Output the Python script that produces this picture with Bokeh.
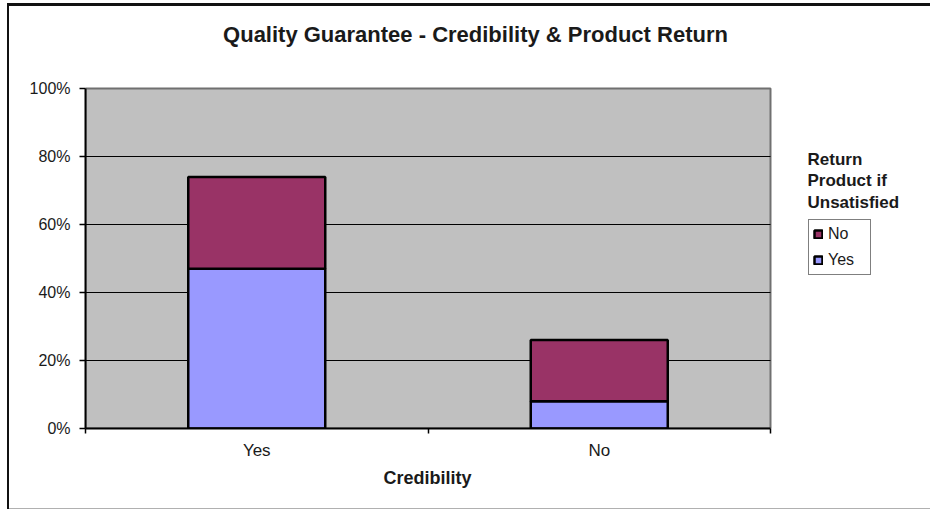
from bokeh.plotting import figure
from bokeh.models import (Range1d, FixedTicker, NumeralTickFormatter, Legend,
                          LegendItem, Label, Title, ColumnDataSource)
from bokeh.embed import file_html
from bokeh.resources import INLINE

# ---- data ----
credibility = ["Yes", "No"]
return_yes = [0.47, 0.08]
return_no = [0.27, 0.18]
y_ticks = [0, 0.2, 0.4, 0.6, 0.8, 1.0]
series = ["Yes", "No"]
series_colors = ["#9999FF", "#993366"]

FONT = "Liberation Sans"
TXT = "#1a1a1a"

n = len(credibility)
positions = [i + 0.5 for i in range(n)]
edges = list(range(n + 1))
source = ColumnDataSource(dict(x=positions, cred=credibility,
                               Yes=return_yes, No=return_no))

# ---- layout (pixels) ----
W, H = 923, 506
LEFT, BOTTOM = 78, 81
AREA_W, AREA_H = 685, 340          # plot-area size in pixels
frame_w, frame_h = W - LEFT, H - BOTTOM
x_end = n * frame_w / AREA_W
y_end = y_ticks[-1] * frame_h / AREA_H

p = figure(width=W, height=H,
           x_range=Range1d(0, x_end), y_range=Range1d(0, y_end),
           output_backend="svg", toolbar_location=None,
           min_border_left=LEFT, min_border_right=0,
           min_border_top=0, min_border_bottom=BOTTOM,
           background_fill_color=None, border_fill_color=None,
           outline_line_color=None)
p.styles = {"margin-left": "7px", "margin-top": "3px",
            "box-shadow": "inset 0 3px 0 #111, inset 2px 0 0 #111, inset 0 -1px 0 #b0b0b0"}

# plot area background
p.quad(left=[0], right=[n], bottom=[y_ticks[0]], top=[y_ticks[-1]],
       fill_color="#C0C0C0", line_color="#707070", line_width=2)
# horizontal grid lines
inner = y_ticks[1:-1]
p.segment(x0=[0] * len(inner), x1=[n] * len(inner), y0=inner, y1=inner,
          line_color="black", line_width=1.2)

rs = p.vbar_stack(series, x="x", width=0.4, source=source,
                  fill_color=series_colors, line_color="black", line_width=2.5)

p.xgrid.visible = False
p.ygrid.visible = False

# y axis
ya = p.yaxis[0]
ya.bounds = (y_ticks[0], y_ticks[-1])
ya.ticker = FixedTicker(ticks=y_ticks)
ya.formatter = NumeralTickFormatter(format="0%")
ya.major_tick_out = 6
ya.major_tick_in = 0
ya.minor_tick_line_color = None
ya.axis_line_width = 2
ya.major_tick_line_width = 1.5
ya.major_label_standoff = 9
ya.major_label_text_font = FONT
ya.major_label_text_font_size = "16px"
ya.major_label_text_color = TXT

# x axis
xa = p.xaxis[0]
xa.bounds = (0, n)
xa.ticker = FixedTicker(ticks=positions, minor_ticks=edges)
xa.major_label_overrides = {pos: lab for pos, lab in zip(positions, credibility)}
xa.major_tick_line_color = None
xa.major_tick_out = 0
xa.major_tick_in = 0
xa.minor_tick_line_color = "black"
xa.minor_tick_line_width = 1.5
xa.minor_tick_out = 5
xa.minor_tick_in = 0
xa.axis_line_width = 2
xa.major_label_standoff = 7
xa.major_label_text_font = FONT
xa.major_label_text_font_size = "17px"
xa.major_label_text_color = TXT

# x-axis title, centred under the plot area (not the whole frame)
p.add_layout(Title(text="Credibility", align="left", offset=298, standoff=6,
                   text_font=FONT, text_font_style="bold",
                   text_font_size="18px", text_color=TXT), "below")

# chart title
p.add_layout(Label(x=390, y=394, x_units="screen", y_units="screen",
                   text="Quality Guarantee - Credibility & Product Return",
                   text_align="center", text_baseline="middle",
                   text_font=FONT, text_font_style="bold",
                   text_font_size="22px", text_color=TXT))

# legend title
for txt, yy in zip(["Return", "Product if", "Unsatisfied"], [279, 258, 236]):
    p.add_layout(Label(x=722, y=yy, x_units="screen", y_units="screen",
                       text=txt, text_align="left", text_baseline="top",
                       text_font=FONT, text_font_style="bold",
                       text_font_size="17px", text_color=TXT))

legend = Legend(items=[LegendItem(label=lab, renderers=[r])
                       for lab, r in reversed(list(zip(series, rs)))],
                location=(723, 153),
                border_line_color="black", border_line_width=1.5,
                background_fill_color="white", background_fill_alpha=1,
                padding=4, spacing=6, margin=0,
                glyph_width=10, glyph_height=10, label_standoff=5,
                label_height=20, label_width=38,
                label_text_font=FONT, label_text_font_size="16px",
                label_text_color=TXT)
p.add_layout(legend, "center")

open("out.html", "w").write(file_html(p, INLINE))
